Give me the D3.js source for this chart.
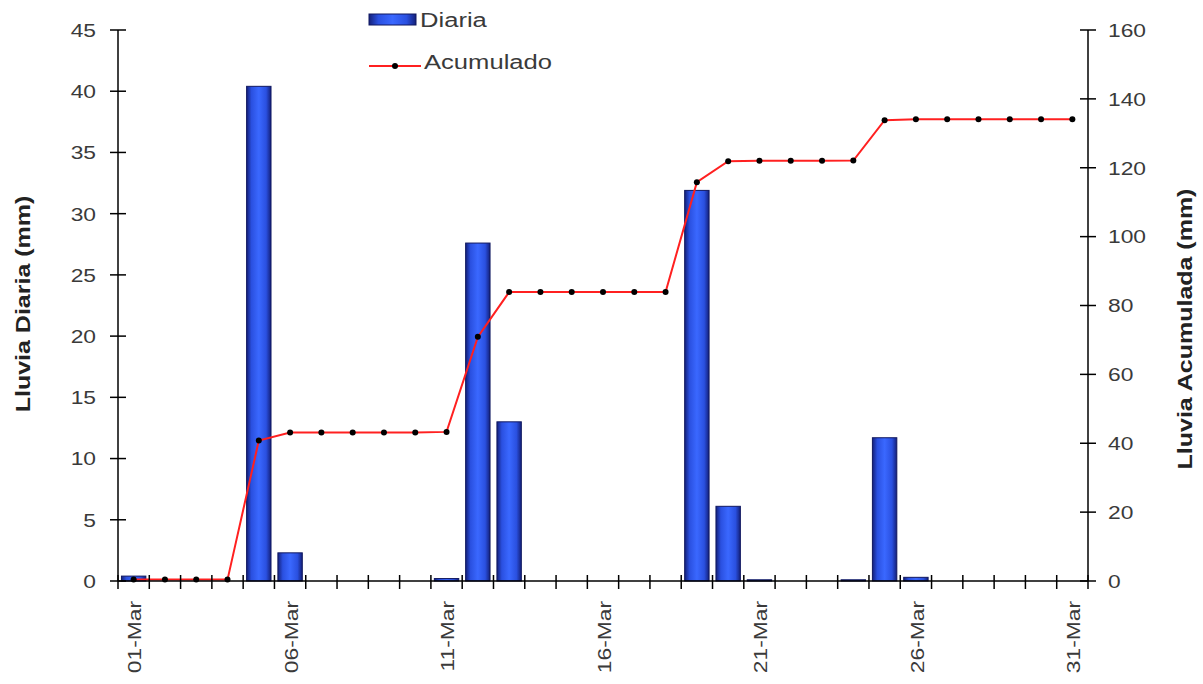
<!DOCTYPE html>
<html><head><meta charset="utf-8">
<script src="https://cdn.jsdelivr.net/npm/d3@7"></script>
<style>body{margin:0;background:#fff}svg{display:block}text{font-family:"Liberation Sans",Arial,sans-serif}</style>
</head><body><svg id="c" width="1203" height="684"></svg>
<script>
const days = d3.range(1,32).map(d => (d<10?"0"+d:""+d)+"-Mar");
const diaria = [0.4,0,0,0,40.4,2.3,0,0,0,0,0.2,27.6,13.0,0,0,0,0,0,31.9,6.1,0.1,0,0,0.1,11.7,0.3,0,0,0,0,0];
const acumulado = [0.4,0.4,0.4,0.4,40.8,43.1,43.1,43.1,43.1,43.1,43.3,70.9,83.9,83.9,83.9,83.9,83.9,83.9,115.8,121.9,122.0,122.0,122.0,122.1,133.8,134.1,134.1,134.1,134.1,134.1,134.1];
const leftTicks = [0,5,10,15,20,25,30,35,40,45];
const rightTicks = [0,20,40,60,80,100,120,140,160];
const xLabels = ["01-Mar","06-Mar","11-Mar","16-Mar","21-Mar","26-Mar","31-Mar"];

const svg = d3.select("#c");
const L=118, R=1088, T=30, B=581;
const x = d3.scaleBand().domain(days).range([L,R]).paddingInner(0.22).paddingOuter(0.11);
const xc = d => x(d)+x.bandwidth()/2;
const yL = d3.scaleLinear().domain([0,45]).range([B,T]);
const yR = d3.scaleLinear().domain([0,160]).range([B,T]);
const step = (R-L)/31;
const SX = 1.2;

const defs = svg.append("defs");
const g = defs.append("linearGradient").attr("id","bg").attr("x1","0").attr("x2","1").attr("y1","0").attr("y2","0");
[[0,"#14207a"],[0.2,"#2a50e0"],[0.5,"#3a68ff"],[0.8,"#2a50e0"],[1,"#14207a"]].forEach(s=>g.append("stop").attr("offset",s[0]).attr("stop-color",s[1]));

// bars
svg.append("g").selectAll("rect").data(days.map((d,i)=>({d,v:diaria[i]})).filter(o=>o.v>0)).join("rect")
  .attr("x",o=>x(o.d)).attr("width",x.bandwidth())
  .attr("y",o=>yL(o.v)).attr("height",o=>B-yL(o.v))
  .attr("fill","url(#bg)").attr("stroke","#101860").attr("stroke-width",1);

// line
const pts = days.map((d,i)=>[xc(d), yR(acumulado[i])]);
svg.append("path").attr("d",d3.line()(pts)).attr("fill","none").attr("stroke","#ff2020").attr("stroke-width",2);
svg.append("g").selectAll("circle").data(pts).join("circle").attr("cx",p=>p[0]).attr("cy",p=>p[1]).attr("r",3).attr("fill","#000");

// axes
const ax = svg.append("g").attr("stroke","#000").attr("stroke-width",1.5);
ax.append("line").attr("x1",L).attr("x2",L).attr("y1",T).attr("y2",B);
ax.append("line").attr("x1",R).attr("x2",R).attr("y1",T).attr("y2",B);
ax.append("line").attr("x1",L).attr("x2",R).attr("y1",B).attr("y2",B);
leftTicks.forEach(t=>ax.append("line").attr("x1",L-8).attr("x2",L+8).attr("y1",yL(t)).attr("y2",yL(t)));
rightTicks.forEach(t=>ax.append("line").attr("x1",R-8).attr("x2",R+8).attr("y1",yR(t)).attr("y2",yR(t)));
d3.range(0,32).forEach(i=>ax.append("line").attr("x1",L+i*step).attr("x2",L+i*step).attr("y1",B-6).attr("y2",B+8));

const tc="#3a3a3a";
svg.append("g").selectAll("text").data(leftTicks).join("text")
  .attr("transform",t=>`translate(${L-22},${yL(t)}) scale(${SX},1)`).attr("dy","0.36em").attr("text-anchor","end")
  .attr("font-size",19).attr("fill",tc).text(t=>t);
svg.append("g").selectAll("text").data(rightTicks).join("text")
  .attr("transform",t=>`translate(${R+20},${yR(t)}) scale(${SX},1)`).attr("dy","0.36em").attr("text-anchor","start")
  .attr("font-size",19).attr("fill",tc).text(t=>t);
svg.append("g").selectAll("text").data(xLabels).join("text")
  .attr("transform",d=>`translate(${xc(d)+1},${B+20}) rotate(-90) scale(${SX},1)`)
  .attr("dy","0.36em").attr("text-anchor","end").attr("font-size",19).attr("fill",tc).text(d=>d);

svg.append("text").attr("transform","translate(30,304) rotate(-90) scale(1.25,1)").attr("text-anchor","middle")
  .attr("font-size",20).attr("font-weight","bold").attr("fill","#222").text("Lluvia Diaria (mm)");
svg.append("text").attr("transform","translate(1192,329) rotate(-90) scale(1.25,1)").attr("text-anchor","middle")
  .attr("font-size",20).attr("font-weight","bold").attr("fill","#222").text("Lluvia Acumulada (mm)");

// legend
svg.append("rect").attr("x",369).attr("y",14).attr("width",47).attr("height",11).attr("fill","url(#bg)").attr("stroke","#101860");
svg.append("text").attr("transform","translate(420,20) scale(1.28,1)").attr("dy","0.36em").attr("font-size",20).attr("fill",tc).text("Diaria");
svg.append("line").attr("x1",369).attr("x2",421).attr("y1",66).attr("y2",66).attr("stroke","#ff2020").attr("stroke-width",2);
svg.append("circle").attr("cx",395).attr("cy",66).attr("r",3).attr("fill","#000");
svg.append("text").attr("transform","translate(424,62) scale(1.28,1)").attr("dy","0.36em").attr("font-size",20).attr("fill",tc).text("Acumulado");
</script></body></html>
